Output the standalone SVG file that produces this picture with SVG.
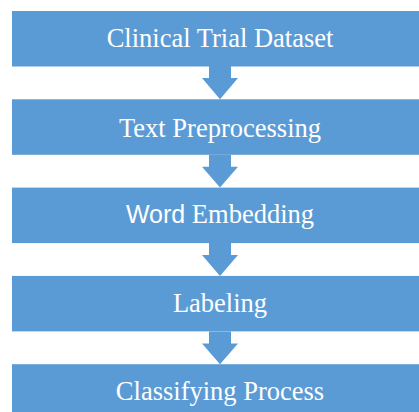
<svg xmlns="http://www.w3.org/2000/svg" width="419" height="412" viewBox="0 0 419 412">
<style>
.box{fill:#5B9BD5;}
.arrow{fill:#5B9BD5;}
.lbl{fill:#FFFFFF;font-family:"Liberation Serif","Times New Roman",serif;font-size:26.5px;text-anchor:middle;}
.sans{font-family:"Liberation Sans",Arial,sans-serif;font-size:25px;}
</style>
<rect width="419" height="412" fill="#FFFFFF"/>
<g id="connectors">
<polygon class="arrow" points="209,66 231,66 231,78 238,78 220,99.3 202,78 209,78"/>
<polygon class="arrow" points="209,154.8 231,154.8 231,166.8 238,166.8 220,187.6 202,166.8 209,166.8"/>
<polygon class="arrow" points="209,243.1 231,243.1 231,255.1 238,255.1 220,275.9 202,255.1 209,255.1"/>
<polygon class="arrow" points="209,331.4 231,331.4 231,343.4 238,343.4 220,364.2 202,343.4 209,343.4"/>
</g>
<g id="n1">
<rect class="box" x="12" y="11" width="420" height="55.5"/>
<text class="lbl" x="220" y="46.8">Clinical Trial Dataset</text>
</g>
<g id="n2">
<rect class="box" x="12" y="99.3" width="420" height="55.5"/>
<text class="lbl" x="220" y="136.6">Text Preprocessing</text>
</g>
<g id="n3">
<rect class="box" x="12" y="187.6" width="420" height="55.5"/>
<text class="lbl" x="220" y="223"><tspan class="sans">Word</tspan> Embedding</text>
</g>
<g id="n4">
<rect class="box" x="12" y="275.9" width="420" height="55.5"/>
<text class="lbl" x="220" y="311.7">Labeling</text>
</g>
<g id="n5">
<rect class="box" x="12" y="364.2" width="420" height="55.5"/>
<text class="lbl" x="220" y="400">Classifying Process</text>
</g>
</svg>
